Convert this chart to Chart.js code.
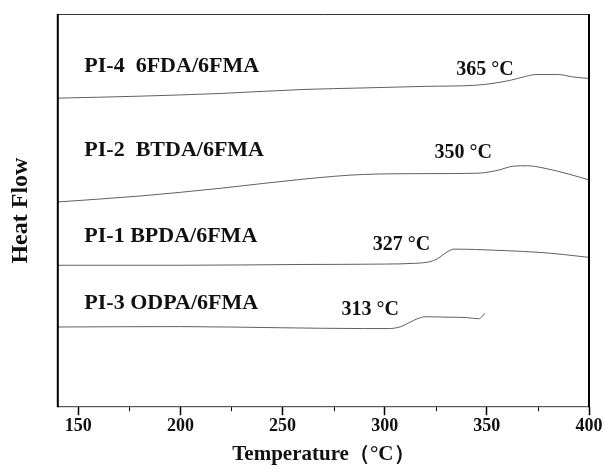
<!DOCTYPE html>
<html>
<head>
<meta charset="utf-8">
<script src="https://cdn.jsdelivr.net/npm/chart.js@4.4.1/dist/chart.umd.min.js"></script>
<style>
  html, body { margin: 0; padding: 0; background: #fff; }
</style>
</head>
<body>
<canvas id="dsc" width="606" height="470"></canvas>
<script>
// temperatures (°C) and heat flow (arbitrary units)
const pi4Temp = [140, 180, 220, 260, 290, 320, 345, 356, 362, 368, 374, 385, 392, 400];
const pi4Flow = [78.6, 79.1, 79.8, 80.8, 81.2, 81.6, 81.9, 82.6, 83.2, 84.0, 84.6, 84.6, 84.0, 83.6];

const pi2Temp = [140, 180, 220, 260, 290, 320, 345, 355, 363, 370, 378, 390, 400];
const pi2Flow = [52.2, 53.7, 55.7, 58.0, 59.2, 59.4, 59.5, 60.2, 61.3, 61.4, 60.8, 59.3, 57.8];

const pi1Temp = [140, 200, 260, 300, 315, 322, 326, 330, 334, 345, 360, 375, 388, 400];
const pi1Flow = [36.1, 36.1, 36.3, 36.4, 36.6, 37.0, 37.8, 39.3, 40.2, 40.1, 39.8, 39.4, 38.8, 38.1];

const pi3Temp = [140, 200, 250, 290, 302, 308, 312, 316, 320, 330, 340, 346, 348, 349];
const pi3Flow = [20.4, 20.5, 20.2, 20.0, 20.0, 20.5, 21.5, 22.5, 23.0, 22.9, 22.8, 22.5, 23.2, 23.9];

const xTicks = [150, 200, 250, 300, 350, 400];
const xMinorTicks = [175, 225, 275, 325, 375];

// curve names and Tg labels, placed in data units
const curveNames = ['PI-4  6FDA/6FMA', 'PI-2  BTDA/6FMA', 'PI-1 BPDA/6FMA', 'PI-3 ODPA/6FMA'];
const curveNameTemp = [153, 153, 153, 153];
const curveNameFlow = [86.8, 65.4, 43.5, 26.5];

const tgLabels = ['365 °C', '350 °C', '327 °C', '313 °C'];
const tgLabelTemp = [335, 324.4, 294.1, 278.9];
const tgLabelFlow = [85.8, 64.6, 41.2, 24.7];

const serif = '"Liberation Serif", "Times New Roman", serif';

function pts(xs, ys) {
  return xs.map((x, i) => ({ x: x, y: ys[i] }));
}

function curve(xs, ys) {
  return {
    data: pts(xs, ys),
    borderColor: '#606060',
    borderWidth: 1,
    pointRadius: 0,
    fill: false,
    cubicInterpolationMode: 'monotone'
  };
}

// frame, minor ticks and text labels
const decorations = {
  id: 'decorations',
  afterDatasetsDraw(chart) {
    const ctx = chart.ctx;
    const a = chart.chartArea;
    const xs = chart.scales.x;
    const ys = chart.scales.y;
    ctx.save();

    ctx.strokeStyle = '#333';
    ctx.lineWidth = 1;
    ctx.beginPath();
    ctx.moveTo(a.left, a.top + 0.5);
    ctx.lineTo(a.right, a.top + 0.5);
    ctx.moveTo(a.left, a.bottom - 0.5);
    ctx.lineTo(a.right, a.bottom - 0.5);
    ctx.stroke();

    ctx.strokeStyle = '#000';
    ctx.lineWidth = 2;
    ctx.beginPath();
    ctx.moveTo(a.left, a.top);
    ctx.lineTo(a.left, a.bottom);
    ctx.moveTo(a.right, a.top);
    ctx.lineTo(a.right, a.bottom);
    ctx.stroke();

    ctx.lineWidth = 1;
    ctx.beginPath();
    xMinorTicks.forEach(v => {
      const px = Math.round(xs.getPixelForValue(v)) + 0.5;
      ctx.moveTo(px, a.bottom);
      ctx.lineTo(px, a.bottom + 4);
    });
    ctx.stroke();

    ctx.fillStyle = '#111';
    ctx.textBaseline = 'middle';
    ctx.textAlign = 'left';
    ctx.font = 'bold 22px ' + serif;
    curveNames.forEach((t, i) => {
      ctx.fillText(t, xs.getPixelForValue(curveNameTemp[i]), ys.getPixelForValue(curveNameFlow[i]));
    });
    ctx.font = 'bold 20px ' + serif;
    tgLabels.forEach((t, i) => {
      ctx.fillText(t, xs.getPixelForValue(tgLabelTemp[i]), ys.getPixelForValue(tgLabelFlow[i]));
    });
    ctx.restore();
  }
};

new Chart(document.getElementById('dsc'), {
  type: 'line',
  data: {
    datasets: [
      curve(pi4Temp, pi4Flow),
      curve(pi2Temp, pi2Flow),
      curve(pi1Temp, pi1Flow),
      curve(pi3Temp, pi3Flow)
    ]
  },
  options: {
    responsive: false,
    animation: false,
    layout: { padding: { left: 6, right: 17, top: 14, bottom: 3 } },
    plugins: { legend: { display: false }, tooltip: { enabled: false } },
    scales: {
      x: {
        type: 'linear',
        min: 140,
        max: 400,
        afterBuildTicks: s => { s.ticks = xTicks.map(v => ({ value: v })); },
        border: { display: false },
        grid: { drawOnChartArea: false, drawTicks: true, tickLength: 8, tickColor: '#000', tickWidth: 1.5 },
        ticks: { padding: 0, color: '#111', font: { family: serif, size: 18, weight: 'bold' }, maxRotation: 0 },
        title: {
          display: true,
          text: 'Temperature（°C）',
          color: '#111',
          padding: { top: 5, bottom: 0 },
          font: { family: serif, size: 21, weight: 'bold' }
        }
      },
      y: {
        min: 0,
        max: 100,
        border: { display: false },
        grid: { display: false, drawTicks: false },
        ticks: { display: false },
        title: {
          display: true,
          text: 'Heat Flow',
          color: '#111',
          padding: { top: 0, bottom: 23 },
          font: { family: serif, size: 24, weight: 'bold' }
        }
      }
    }
  },
  plugins: [decorations]
});
</script>
</body>
</html>
